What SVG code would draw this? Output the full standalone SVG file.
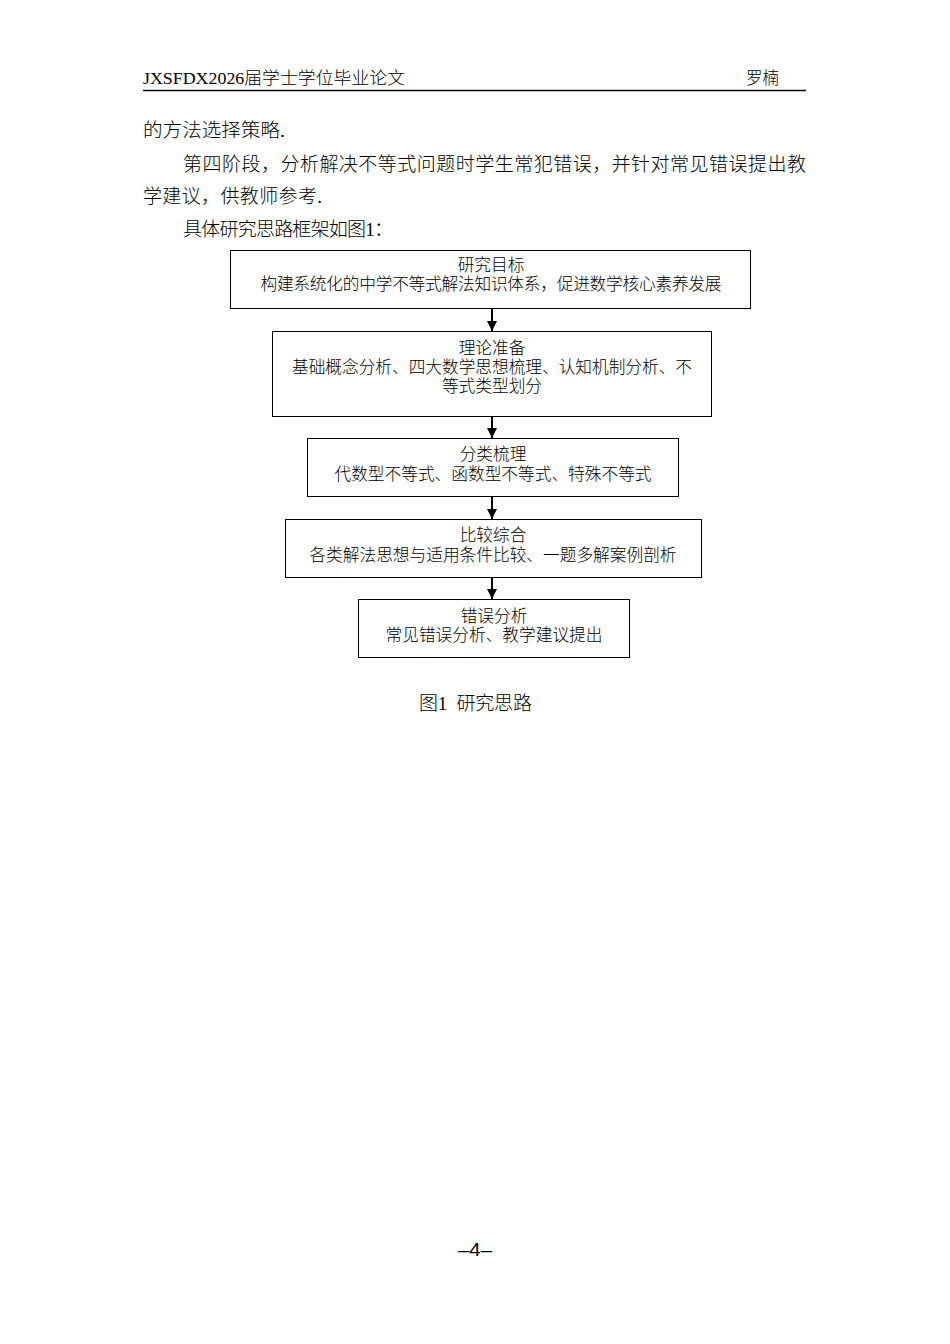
<svg xmlns="http://www.w3.org/2000/svg" width="950" height="1344" viewBox="0 0 950 1344">
<style>
text{font-family:"Liberation Serif","Noto Sans CJK SC",serif;fill:#000;font-weight:300}
.hd{font-size:16.5px}
.bd{font-size:19px}
.bx{font-size:16.7px;text-anchor:middle}
.node rect{fill:#fff;stroke:#000;stroke-width:1}
.conn line{stroke:#000;stroke-width:2}
</style>
<defs>
<marker id="ah" viewBox="0 0 10 10" refX="10" refY="5" markerWidth="5" markerHeight="5" markerUnits="strokeWidth" orient="auto">
<path d="M0,0 L10,5 L0,10 z" fill="#000"/>
</marker>
</defs>
<rect width="950" height="1344" fill="#fff"/>
<g id="header">
<text class="hd" x="143" y="84" textLength="262" lengthAdjust="spacingAndGlyphs">JXSFDX2026届学士学位毕业论文</text>
<text class="hd" x="779" y="84" text-anchor="end">罗楠</text>
<line x1="143" y1="90.5" x2="806" y2="90.5" stroke="#000" stroke-width="1.5"/>
</g>
<g id="body">
<text class="bd" x="143" y="137" textLength="142" lengthAdjust="spacingAndGlyphs">的方法选择策略.</text>
<text class="bd" x="183" y="171" textLength="623" lengthAdjust="spacing">第四阶段，分析解决不等式问题时学生常犯错误，并针对常见错误提出教</text>
<text class="bd" x="143" y="203" textLength="179" lengthAdjust="spacing">学建议，供教师参考.</text>
<text class="bd" x="183" y="236" textLength="210" lengthAdjust="spacing">具体研究思路框架如图1：</text>
</g>
<g class="conn" id="connectors">
<line x1="492" y1="308" x2="492" y2="331" marker-end="url(#ah)"/>
<line x1="492" y1="416" x2="492" y2="438" marker-end="url(#ah)"/>
<line x1="492" y1="496" x2="492" y2="519" marker-end="url(#ah)"/>
<line x1="492" y1="578" x2="492" y2="599" marker-end="url(#ah)"/>
</g>
<g class="node" id="n1">
<rect x="230.5" y="250.5" width="520" height="58"/>
<text class="bx" x="491" y="271">研究目标</text>
<text class="bx" x="491" y="290" textLength="461" lengthAdjust="spacing">构建系统化的中学不等式解法知识体系，促进数学核心素养发展</text>
</g>
<g class="node" id="n2">
<rect x="272.5" y="331.5" width="439" height="85"/>
<text class="bx" x="492" y="354">理论准备</text>
<text class="bx" x="492" y="373" textLength="400" lengthAdjust="spacing">基础概念分析、四大数学思想梳理、认知机制分析、不</text>
<text class="bx" x="492" y="392">等式类型划分</text>
</g>
<g class="node" id="n3">
<rect x="307.5" y="438.5" width="371" height="58"/>
<text class="bx" x="493" y="460">分类梳理</text>
<text class="bx" x="493" y="480">代数型不等式、函数型不等式、特殊不等式</text>
</g>
<g class="node" id="n4">
<rect x="285.5" y="519.5" width="416" height="58"/>
<text class="bx" x="493" y="541">比较综合</text>
<text class="bx" x="493" y="561">各类解法思想与适用条件比较、一题多解案例剖析</text>
</g>
<g class="node" id="n5">
<rect x="358.5" y="599.5" width="271" height="58"/>
<text class="bx" x="494" y="622">错误分析</text>
<text class="bx" x="494" y="641">常见错误分析、教学建议提出</text>
</g>
<g id="caption">
<text class="bd" x="419" y="710" font-size="18" xml:space="preserve" style="white-space:pre" textLength="113" lengthAdjust="spacing">图1  研究思路</text>
</g>
<g id="footer">
<text x="475" y="1256" text-anchor="middle" style="font-family:'Liberation Sans',sans-serif;font-size:18px" textLength="34" lengthAdjust="spacingAndGlyphs">–4–</text>
</g>
</svg>
